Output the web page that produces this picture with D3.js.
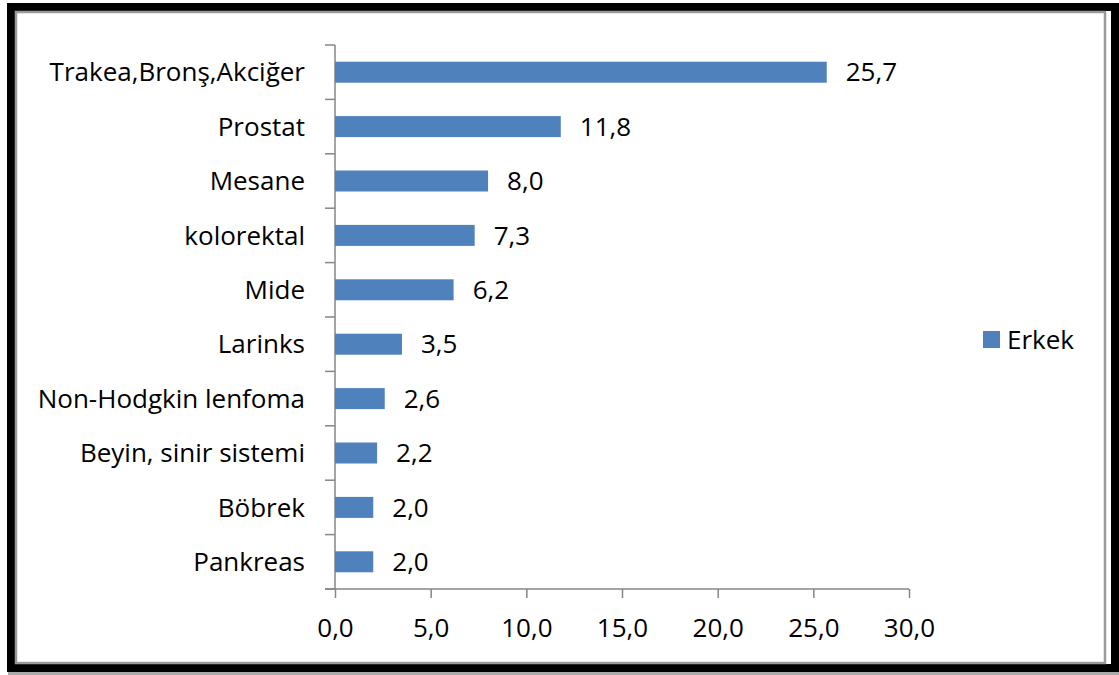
<!DOCTYPE html>
<html><head><meta charset="utf-8">
<script src="https://cdn.jsdelivr.net/npm/d3@7"></script>
<style>html,body{margin:0;padding:0;background:#fff;}svg{display:block;}</style>
</head><body><svg id="c" width="1119" height="675"></svg>
<script>
const categories = ["Trakea,Bronş,Akciğer","Prostat","Mesane","kolorektal","Mide","Larinks","Non-Hodgkin lenfoma","Beyin, sinir sistemi","Böbrek","Pankreas"];
const erkek = [25.7, 11.8, 8.0, 7.3, 6.2, 3.5, 2.6, 2.2, 2.0, 2.0];
const xTicks = [0, 5, 10, 15, 20, 25, 30];
const seriesName = "Erkek";

const svg = d3.select("#c");
const font = "'Open Sans', Lato, sans-serif";
const fs = 26;
const fmt = v => v.toFixed(1).replace(".", ",");

// frame
svg.append("rect").attr("x",0).attr("y",0).attr("width",1119).attr("height",675).attr("fill","#fff");
svg.append("rect").attr("x",11).attr("y",7).attr("width",1104).attr("height",661)
  .attr("fill","none").attr("stroke","#000").attr("stroke-width",8);
svg.append("rect").attr("x",16).attr("y",12).attr("width",1089).attr("height",651)
  .attr("fill","none").attr("stroke","#9a9a9a").attr("stroke-width",2.5);
svg.append("rect").attr("x",8).attr("y",672).attr("width",1111).attr("height",3).attr("fill","#aaa");

const x = d3.scaleLinear().domain([0, 30]).range([335, 909]);
const yb = d3.scaleBand().domain(categories).range([45, 589]);

const axisColor = "#868686";
const g = svg.append("g");
g.append("line").attr("x1",335).attr("x2",335).attr("y1",45).attr("y2",589).attr("stroke",axisColor).attr("stroke-width",1.5);
const bounds = categories.map(c => yb(c)).concat([589]);
g.selectAll(".yt").data(bounds).join("line").attr("x1",325).attr("x2",335)
  .attr("y1",d=>d).attr("y2",d=>d).attr("stroke",axisColor).attr("stroke-width",1.5);

const xAxis = d3.axisBottom(x).tickValues(xTicks).tickSize(9).tickFormat(fmt);
const xg = svg.append("g").attr("transform","translate(0,589)").call(xAxis);
xg.select(".domain").attr("stroke",axisColor).attr("stroke-width",1.5).attr("d","M325,0H909");
xg.selectAll(".tick line").attr("stroke",axisColor).attr("stroke-width",1.5);
xg.selectAll(".tick text").attr("font-family",font).attr("font-size",fs).attr("fill","#000").attr("y",48).attr("dy","0");

const barH = 21;
svg.selectAll(".bar").data(erkek).join("rect")
  .attr("x", x(0)).attr("y", (d,i) => yb(categories[i]) + yb.bandwidth()/2 - barH/2)
  .attr("width", d => x(d) - x(0)).attr("height", barH).attr("fill","#4F81BD");

svg.selectAll(".vl").data(erkek).join("text")
  .attr("x", d => x(d) + 19).attr("y", (d,i) => yb(categories[i]) + yb.bandwidth()/2)
  .attr("dy","0.35em").attr("font-family",font).attr("font-size",fs).attr("fill","#000")
  .text(fmt);

svg.selectAll(".cl").data(categories).join("text")
  .attr("x", 305).attr("y", d => yb(d) + yb.bandwidth()/2)
  .attr("dy","0.35em").attr("text-anchor","end").attr("font-family",font).attr("font-size",fs).attr("fill","#000")
  .text(d => d);

svg.append("rect").attr("x",983).attr("y",331).attr("width",17).attr("height",17).attr("fill","#4F81BD");
svg.append("text").attr("x",1007).attr("y",339.5).attr("dy","0.35em").attr("font-family",font).attr("font-size",fs).attr("fill","#000").text(seriesName);
</script></body></html>
